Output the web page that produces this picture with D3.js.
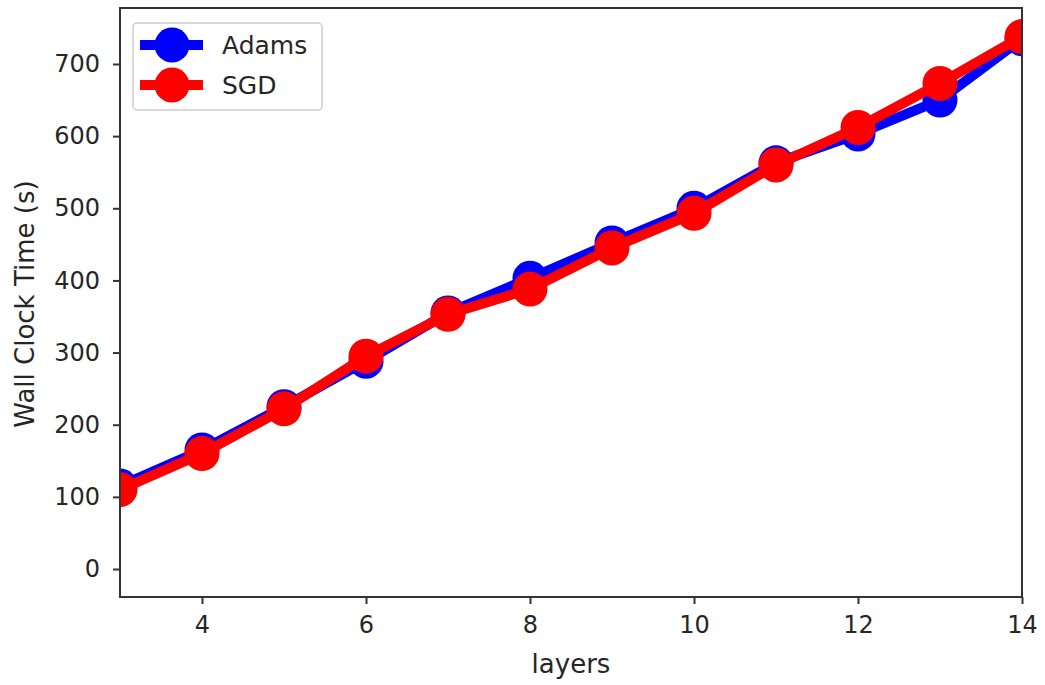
<!DOCTYPE html>
<html>
<head>
<meta charset="utf-8">
<script src="https://cdn.jsdelivr.net/npm/d3@7"></script>
<style>
  body { margin: 0; background: #fff; }
  text { font-family: "DejaVu Sans", sans-serif; fill: #262626; }
</style>
</head>
<body>
<div id="chart"></div>
<script>
// Data
const layers = [3, 4, 5, 6, 7, 8, 9, 10, 11, 12, 13, 14];
const adams = [115, 165, 225, 288, 355, 403, 452, 500, 563, 603, 650, 735];
const sgd = [110, 160, 222, 295, 353, 388, 445, 493, 560, 612, 673, 738];
const xTicks = [4, 6, 8, 10, 12, 14];
const yTicks = [0, 100, 200, 300, 400, 500, 600, 700];

const series = [
  { name: "Adams", values: adams, color: "#0000ff" },
  { name: "SGD", values: sgd, color: "#ff0000" }
];

const width = 1045, height = 685;
const margin = { top: 8, right: 23, bottom: 88, left: 120 };
const w = width - margin.left - margin.right;
const h = height - margin.top - margin.bottom;

const svg = d3.select("#chart").append("svg")
  .attr("width", width)
  .attr("height", height);

const g = svg.append("g")
  .attr("transform", `translate(${margin.left},${margin.top})`);

// Scales
const x = d3.scaleLinear().domain([3, 14]).range([0, w]);
const y = d3.scaleLinear().domain([-38.8, 777.6]).range([h, 0]);

// Clip to the axes box
g.append("clipPath").attr("id", "clip")
  .append("rect").attr("width", w).attr("height", h);

// Lines and markers
const line = d3.line()
  .x((d, i) => x(layers[i]))
  .y(d => y(d));

const plot = g.append("g").attr("clip-path", "url(#clip)");
series.forEach(s => {
  plot.append("path")
    .datum(s.values)
    .attr("fill", "none")
    .attr("stroke", s.color)
    .attr("stroke-width", 10)
    .attr("stroke-linejoin", "round")
    .attr("d", line);
  plot.selectAll(null)
    .data(s.values)
    .enter()
    .append("circle")
    .attr("cx", (d, i) => x(layers[i]))
    .attr("cy", d => y(d))
    .attr("r", 17.5)
    .attr("fill", s.color);
});

// Axes
const xAxis = g.append("g")
  .attr("transform", `translate(0,${h})`)
  .call(d3.axisBottom(x).tickValues(xTicks).tickSize(7).tickPadding(12).tickSizeOuter(0));
xAxis.selectAll("text").style("font-size", "24px");

const yAxis = g.append("g")
  .call(d3.axisLeft(y).tickValues(yTicks).tickSize(7).tickPadding(13).tickSizeOuter(0));
yAxis.selectAll("text").style("font-size", "24px");

g.selectAll(".domain").remove();
g.selectAll(".tick line").attr("stroke", "#333").attr("stroke-width", 2);

// Frame
g.append("rect")
  .attr("width", w)
  .attr("height", h)
  .attr("fill", "none")
  .attr("stroke", "#333")
  .attr("stroke-width", 2);

// Axis labels
svg.append("text")
  .attr("x", margin.left + w / 2)
  .attr("y", height - 12)
  .attr("text-anchor", "middle")
  .style("font-size", "26px")
  .text("layers");

svg.append("text")
  .attr("transform", "translate(34,304) rotate(-90)")
  .attr("text-anchor", "middle")
  .style("font-size", "26px")
  .text("Wall Clock Time (s)");

// Legend
const legend = g.append("g").attr("transform", "translate(13,15)");
legend.append("rect")
  .attr("width", 189)
  .attr("height", 87)
  .attr("rx", 4)
  .attr("fill", "#fff")
  .attr("stroke", "#ccc")
  .attr("stroke-width", 1.5);

series.forEach((s, i) => {
  const row = legend.append("g").attr("transform", `translate(0,${22 + i * 40})`);
  row.append("line")
    .attr("x1", 7).attr("x2", 70)
    .attr("stroke", s.color).attr("stroke-width", 10);
  row.append("circle")
    .attr("cx", 39).attr("r", 17.5).attr("fill", s.color);
  row.append("text")
    .attr("x", 89).attr("dy", "0.36em")
    .style("font-size", "25px")
    .text(s.name);
});
</script>
</body>
</html>
